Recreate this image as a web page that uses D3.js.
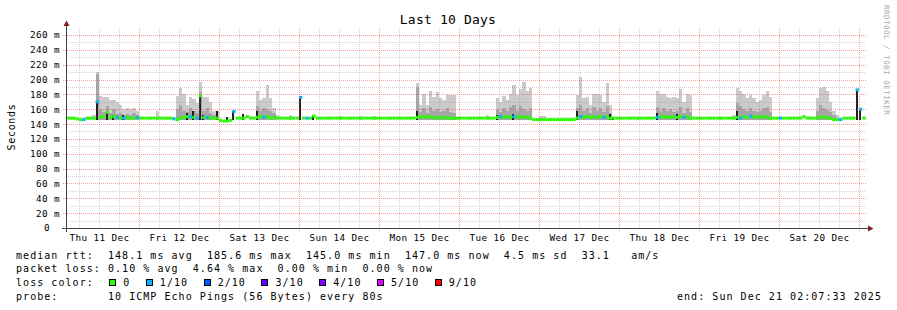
<!DOCTYPE html>
<html>
<head>
<meta charset="utf-8">
<script src="https://cdn.jsdelivr.net/npm/d3@7"></script>
<style>
  body { margin: 0; background: #fff; }
  svg text { font-family: "DejaVu Sans Mono", monospace; white-space: pre; }
</style>
</head>
<body>
<svg id="chart"></svg>
<script>
// hourly buckets, one row per day starting Thu 11 Dec (UTC), last row = Sun 21 Dec
var medianMs = [
  [148,148,148,148,148,147,146,146,148,148,148,170,149,150,156,149,150,149,148,148,149,148,148,149],
  [148,148,148,148,148,148,148,148,148,148,147,146,148,149,150,150,149,148,178,149,149,148,148,148],
  [145,144,144,145,157,148,148,148,150,148,148,149,150,149,150,148,149,148,148,148,148,148,148,148],
  [176,148,148,148,151,148,148,148,148,148,148,148,148,148,148,148,148,148,148,148,148,148,148,148],
  [148,148,148,148,148,148,148,148,148,148,148,149,150,150,149,150,149,148,149,148,149,148,148,148],
  [148,148,148,148,148,148,148,148,148,148,148,149,150,149,150,149,150,149,150,149,149,148,146,146],
  [146,146,146,146,146,146,146,146,146,146,146,148,150,149,150,149,150,149,150,149,150,148,148,148],
  [148,148,148,148,148,148,148,148,148,148,148,149,150,149,150,149,150,149,150,149,150,148,148,148],
  [148,148,148,148,148,148,148,148,148,148,148,149,148,150,149,151,149,150,149,150,149,148,148,148],
  [148,148,148,148,148,148,148,150,148,148,148,148,150,149,148,148,146,146,146,148,148,148,148,186],
  [160,148,148]
];
var lossCount = [
  [0,0,0,0,0,0,0,1,0,0,0,1,0,0,0,0,0,1,0,1,0,0,0,1],
  [0,0,0,0,0,0,0,0,0,0,1,0,0,0,0,1,0,1,0,0,1,0,0,0],
  [0,0,0,0,1,0,0,0,0,0,0,0,0,1,0,0,0,0,0,0,0,0,0,0],
  [1,0,1,0,0,0,0,0,0,0,0,0,0,0,0,0,0,0,0,0,0,0,0,0],
  [0,0,0,0,0,0,0,0,0,0,0,0,0,0,0,0,0,0,0,0,0,0,0,0],
  [0,0,0,0,0,0,0,0,0,0,0,0,1,0,0,0,1,0,0,0,0,0,0,0],
  [0,0,0,0,0,0,0,0,0,0,0,0,1,0,0,0,0,0,0,1,0,0,0,0],
  [0,0,0,0,0,0,0,0,0,0,0,1,0,0,0,0,0,0,0,1,0,0,0,0],
  [0,0,0,0,0,0,0,0,0,0,0,0,1,0,0,1,0,0,0,0,0,0,0,0],
  [1,0,0,0,0,0,0,0,0,0,0,0,0,0,0,0,0,0,1,0,0,0,0,1],
  [1,0,0]
];
// smoke: max ping, upper darker band, dense (black) band; 0 = none
var smokeMax = [
  [0,0,0,0,0,0,0,0,0,0,152,210,178,177,176,172,172,170,166,160,161,160,162,157],
  [0,0,0,0,0,157,0,0,0,0,0,178,188,180,166,176,174,168,196,176,177,170,157,157],
  [0,0,0,0,0,0,0,0,0,0,0,184,172,175,192,175,161,152,0,0,0,152,0,0],
  [0,0,0,0,0,0,0,0,0,0,0,0,151,0,0,0,0,0,151,0,0,0,151,0],
  [0,0,0,0,0,0,0,0,0,0,0,195,166,181,166,184,177,183,175,172,179,179,179,150],
  [0,0,0,0,0,0,0,0,152,0,0,175,170,178,172,180,193,179,187,196,184,188,0,0],
  [151,151,0,0,0,0,0,0,0,0,0,179,203,175,177,166,181,181,179,170,195,166,0,0],
  [0,0,0,0,0,150,0,0,0,0,0,184,181,181,177,175,177,175,187,170,181,179,0,0],
  [0,0,0,0,0,0,150,0,0,0,152,188,184,181,175,179,175,170,172,179,184,177,0,0],
  [0,0,0,0,0,0,0,0,0,0,0,175,188,190,184,170,157,152,0,0,0,0,0,0],
  [0,0,0]
];
var smokeMid = [
  [0,0,0,0,0,0,0,0,0,0,0,208,160,156,165,155,160,154,155,152,153,152,155,152],
  [0,0,0,0,0,0,0,0,0,0,0,160,166,158,156,161,157,155,183,158,162,155,152,0],
  [0,0,0,0,0,0,0,0,0,0,0,165,157,162,160,158,155,0,0,0,0,0,0,0],
  [0,0,0,0,0,0,0,0,0,0,0,0,0,0,0,0,0,0,0,0,0,0,0,0],
  [0,0,0,0,0,0,0,0,0,0,0,190,156,161,155,163,158,160,156,157,161,156,155,0],
  [0,0,0,0,0,0,0,0,0,0,0,160,156,162,158,163,166,158,164,160,157,162,0,0],
  [0,0,0,0,0,0,0,0,0,0,0,162,166,157,161,155,163,158,162,156,164,155,0,0],
  [0,0,0,0,0,0,0,0,0,0,0,163,158,162,157,160,156,157,163,155,161,156,0,0],
  [0,0,0,0,0,0,0,0,0,0,0,168,164,160,157,162,157,156,158,161,163,156,0,0],
  [0,0,0,0,0,0,0,0,0,0,0,158,166,162,159,156,152,0,0,0,0,0,0,0],
  [0,0,0]
];
var smokeDark = [
  [0,0,0,0,0,0,0,0,0,0,0,170,0,0,156,0,152,0,0,152,0,0,0,0],
  [0,0,0,0,0,0,0,0,0,0,0,0,0,0,155,0,157,0,178,152,0,0,0,157],
  [0,0,150,0,157,0,0,153,0,0,0,157,0,0,0,0,0,0,0,0,0,0,0,0],
  [176,0,0,0,151,0,0,0,0,0,0,0,0,0,0,0,0,0,0,0,0,0,0,0],
  [0,0,0,0,0,0,0,0,0,0,0,157,0,0,0,0,0,0,0,0,0,0,0,0],
  [0,0,0,0,0,0,0,0,0,0,0,152,0,0,0,0,153,0,0,0,0,0,0,0],
  [0,0,0,0,0,0,0,0,0,0,0,157,0,0,0,0,0,0,0,0,0,153,150,0],
  [0,0,0,0,0,0,0,0,0,0,0,155,0,0,0,0,0,153,0,0,0,0,0,0],
  [0,0,0,0,0,0,0,0,0,0,0,157,0,0,0,0,0,0,0,0,0,0,0,0],
  [0,0,0,0,0,0,0,0,0,0,0,0,0,0,0,0,0,0,0,0,0,0,0,186],
  [160,0,0]
];

var lossLabels = ["0", "1/10", "2/10", "3/10", "4/10", "5/10", "9/10"];
var lossSteps = [0, 1, 2, 3, 4, 5, 9];
var lossColors = ["#26ff00", "#00b8ff", "#0059ff", "#5e00ff", "#7e00ff", "#dd00ff", "#ff0000"];

var legendLines = [
  "median rtt:  148.1 ms avg  185.6 ms max  145.0 ms min  147.0 ms now  4.5 ms sd  33.1   am/s",
  "packet loss: 0.10 % avg  4.64 % max  0.00 % min  0.00 % now",
  "loss color:",
  "probe:       10 ICMP Echo Pings (56 Bytes) every 80s"
];
var endLabel = "end: Sun Dec 21 02:07:33 2025";

var HOUR = 3600 * 1000;
var firstDay = Date.UTC(2025, 11, 11);
var startTime = new Date(Date.UTC(2025, 11, 11, 2, 7, 33));
var endTime = new Date(Date.UTC(2025, 11, 21, 2, 7, 33));

var svg = d3.select("#chart").attr("width", 897).attr("height", 310);
svg.append("rect").attr("width", 897).attr("height", 310).attr("fill", "#fff");

var x = d3.scaleUtc().domain([startTime, endTime]).range([66, 866]);
var y = d3.scaleLinear().domain([0, 269.4]).range([228, 28]);

function lossColor(n) {
  var c = lossColors[0];
  lossSteps.forEach(function (s, i) { if (n >= s) c = lossColors[i]; });
  return c;
}

// flatten rows into hourly points
var points = [];
medianMs.forEach(function (row, d) {
  row.forEach(function (m, h) {
    var t = firstDay + (d * 24 + h) * HOUR;
    points.push({
      t0: new Date(t), t1: new Date(t + HOUR), med: m, loss: lossCount[d][h],
      hi: smokeMax[d][h], mid: smokeMid[d][h], dark: smokeDark[d][h]
    });
  });
});

svg.append("clipPath").attr("id", "plot")
  .append("rect").attr("x", 66).attr("y", 28).attr("width", 800).attr("height", 200);

var data = svg.append("g").attr("clip-path", "url(#plot)");

// smoke layers
[["hi", "#cbcbcb", 0], ["mid", "#a6a6a6", 0], ["dark", "#1e1e1e", 2]].forEach(function (layer) {
  data.selectAll(".smoke-" + layer[0])
    .data(points.filter(function (p) { return p[layer[0]] > 0; }))
    .enter().append("rect")
    .attr("shape-rendering", "crispEdges")
    .attr("x", function (p) { return x(p.t0); })
    .attr("width", function (p) { return layer[2] || (x(p.t1) - x(p.t0)); })
    .attr("y", function (p) { return y(p[layer[0]]); })
    .attr("height", function (p) { return y(146) - y(p[layer[0]]); })
    .attr("fill", layer[1]);
});

// median, coloured by loss
data.selectAll(".median")
  .data(points)
  .enter().append("line")
  .attr("x1", function (p) { return x(p.t0); })
  .attr("x2", function (p) { return x(p.t1); })
  .attr("y1", function (p) { return y(p.med); })
  .attr("y2", function (p) { return y(p.med); })
  .attr("stroke", function (p) { return lossColor(p.loss); })
  .attr("stroke-width", 3);

// grid (drawn over the data)
var grid = svg.append("g").attr("shape-rendering", "crispEdges").attr("stroke-dasharray", "1,1");
var majorY = y.ticks(14);
var minorColor = "rgba(143,143,143,0.38)", majorColor = "rgba(255,60,60,0.5)";
y.ticks(27).forEach(function (v) {
  if (v === 0) return;
  var major = majorY.indexOf(v) >= 0;
  var yy = Math.round(y(v)) + 0.5;
  grid.append("line")
    .attr("x1", major ? 63 : 66).attr("x2", 866).attr("y1", yy).attr("y2", yy)
    .attr("stroke", major ? majorColor : minorColor);
});
x.ticks(d3.utcHour.every(6)).forEach(function (t) {
  var major = t.getUTCHours() === 0;
  var xx = Math.round(x(t)) + 0.5;
  grid.append("line")
    .attr("x1", xx).attr("x2", xx).attr("y1", 28).attr("y2", major ? 231 : 228)
    .attr("stroke", major ? majorColor : minorColor);
});

// axes lines and arrows
svg.append("line").attr("x1", 62).attr("x2", 869).attr("y1", 228.5).attr("y2", 228.5)
  .attr("stroke", "#404040");
svg.append("line").attr("x1", 66.5).attr("x2", 66.5).attr("y1", 232).attr("y2", 25)
  .attr("stroke", "#404040");
svg.append("path").attr("d", "M868,225.5L873.5,228.5L868,231.5Z").attr("fill", "#801f1f");
svg.append("path").attr("d", "M63.5,26L66.5,20.5L69.5,26Z").attr("fill", "#801f1f");

// y labels
var yAxis = svg.append("g").attr("transform", "translate(66,0)")
  .call(d3.axisLeft(y).tickValues(majorY)
    .tickFormat(function (v) { return v === 0 ? "0" : v + " m"; })
    .tickSize(0).tickPadding(6));
yAxis.select(".domain").remove();
yAxis.selectAll("text")
  .attr("font-size", 9.3).attr("letter-spacing", 0.4)
  .filter(function (v) { return v === 0; }).attr("x", -16);

// day labels at noon
var noons = d3.utcDay.range(new Date(firstDay), endTime).map(function (d) {
  return new Date(+d + 12 * HOUR);
}).filter(function (d) { return d < endTime; });
var xAxis = svg.append("g").attr("transform", "translate(0,228)")
  .call(d3.axisBottom(x).tickValues(noons)
    .tickFormat(d3.utcFormat("%a %d %b")).tickSize(0).tickPadding(6));
xAxis.select(".domain").remove();
xAxis.selectAll("text").attr("font-size", 9.3).attr("letter-spacing", 0.4);

// title, vertical label, watermark
svg.append("text").attr("x", 448).attr("y", 24).attr("text-anchor", "middle")
  .attr("font-size", 13).attr("letter-spacing", 0.2).text("Last 10 Days");
svg.append("text").attr("transform", "translate(15,127) rotate(-90)")
  .attr("text-anchor", "middle").attr("font-size", 10).attr("letter-spacing", 0.7)
  .text("Seconds");
svg.append("text").attr("transform", "translate(884,5) rotate(90)")
  .attr("font-size", 7.5).attr("letter-spacing", 0.5).attr("fill", "#aaaaaa")
  .text("RRDTOOL / TOBI OETIKER");

// legend
var legend = svg.append("g").attr("font-size", 10).attr("letter-spacing", 1.05);
legendLines.forEach(function (line, i) {
  legend.append("text").attr("x", 16).attr("y", 258.5 + i * 13.8).text(line);
});
var lx = 109.3;
lossLabels.forEach(function (lab, i) {
  legend.append("rect").attr("x", lx + 0.5).attr("y", 279.5).attr("width", 6).attr("height", 6)
    .attr("fill", lossColors[i]).attr("stroke", "#000").attr("stroke-width", 1)
    .attr("shape-rendering", "crispEdges");
  legend.append("text").attr("x", lx + 14).attr("y", 258.5 + 2 * 13.8).text(lab);
  lx += 14 + lab.length * 7.07 + 15.5;
});
legend.append("text").attr("x", 882).attr("y", 258.5 + 3 * 13.8)
  .attr("text-anchor", "end").text(endLabel);
</script>
</body>
</html>
